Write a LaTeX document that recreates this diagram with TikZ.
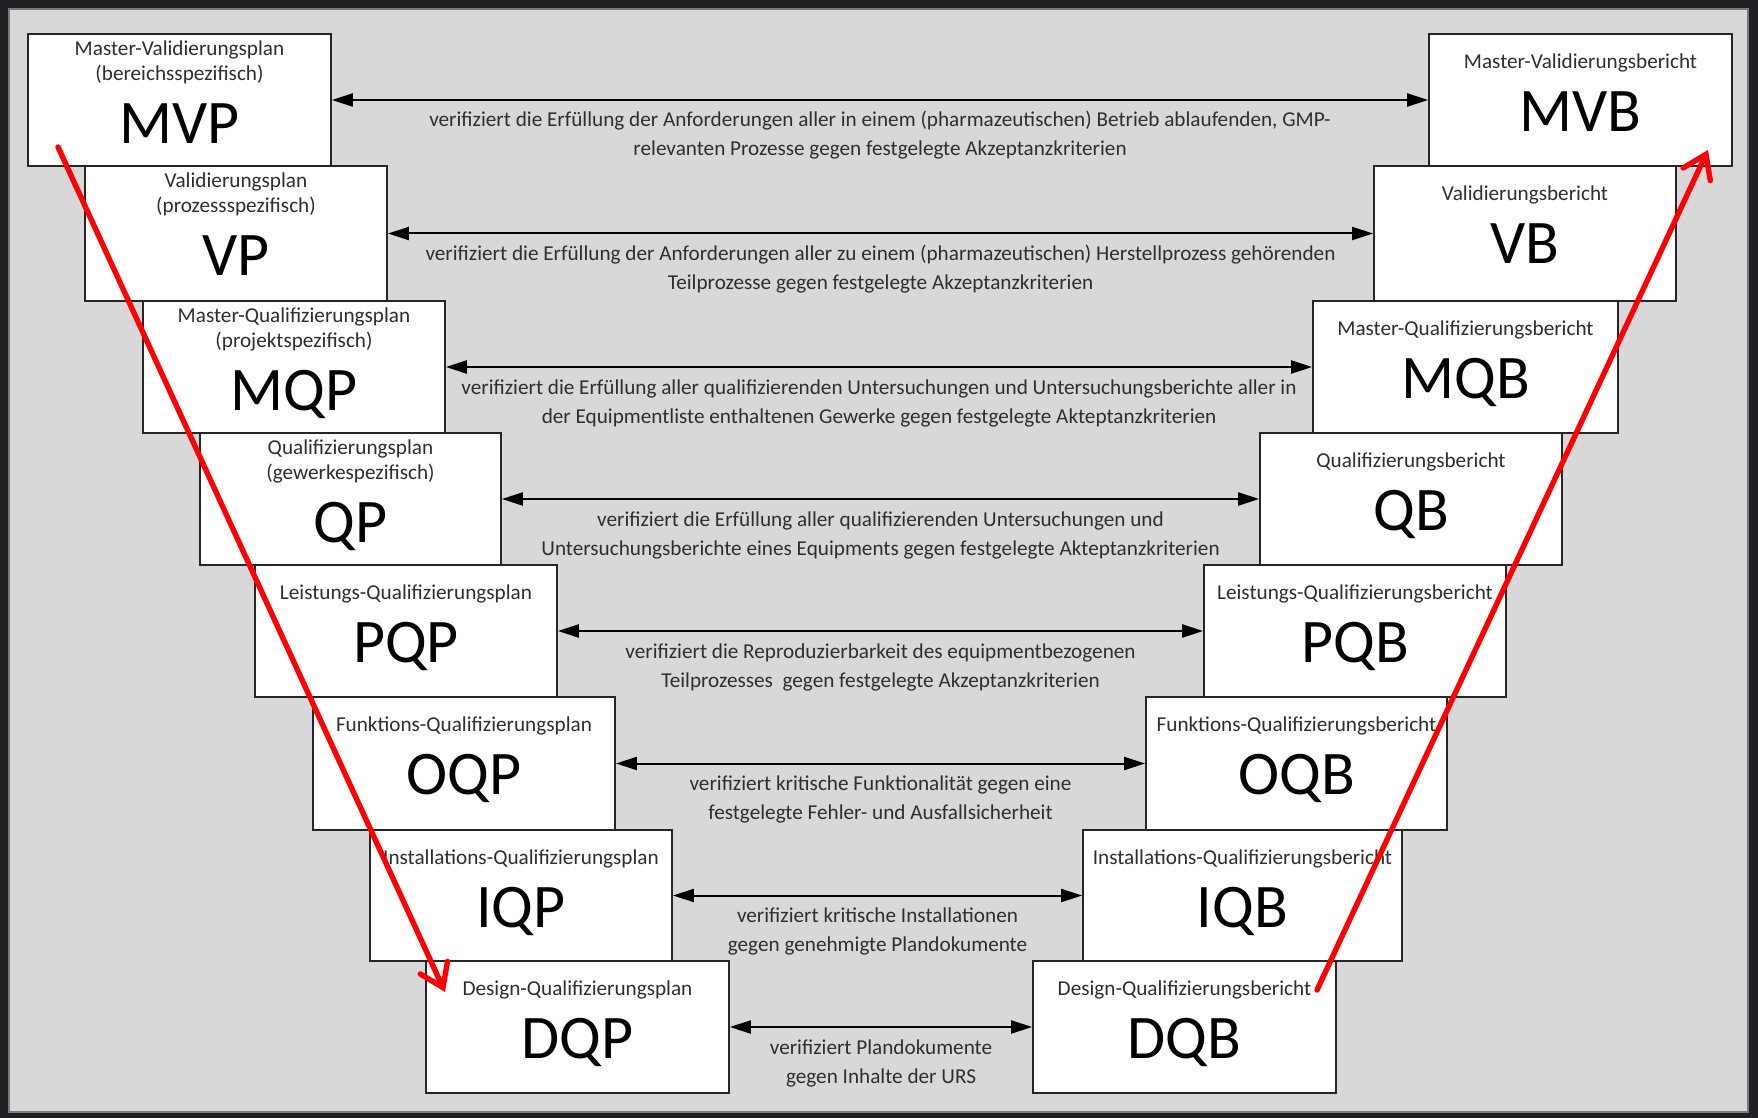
\documentclass[tikz,border=0pt]{standalone}
\usepackage{fontspec}
\setmainfont{Carlito}
\usetikzlibrary{arrows.meta,calc}

\definecolor{frame}{HTML}{1F1F24}
\definecolor{panel}{HTML}{D8D8D8}
\definecolor{panelline}{HTML}{7A7A7A}
\definecolor{boxline}{HTML}{262626}
\definecolor{smalltext}{HTML}{2E2E2E}
\definecolor{vred}{HTML}{FF0000}

\tikzset{
  docbox/.style={draw=boxline, line width=0.85pt, fill=white, inner sep=0pt, rectangle},
  ttl/.style={anchor=base, inner sep=0pt, text=smalltext, font=\fontsize{10.6pt}{12pt}\selectfont},
  big/.style={anchor=base, inner sep=0pt, text=black, font=\fontsize{31pt}{36pt}\selectfont},
  lbl/.style={anchor=base, inner sep=0pt, text=smalltext, font=\fontsize{10.6pt}{12pt}\selectfont},
  biarrow/.style={draw=black, line width=1pt,
    {Triangle[length=10.5pt,width=6.5pt]}-{Triangle[length=10.5pt,width=6.5pt]}},
  vline/.style={draw=vred, line width=2.7pt, line cap=round,
    -{Straight Barb[length=11pt,width=15pt,line cap=round]}}
}

% box: name, left, top, right, bottom (pixel grid, y downwards)
\newcommand\docnode[5]{%
  \node[docbox, minimum width={(#4-#2)*0.5pt}, minimum height={(#5-#3)*0.5pt}]
    (#1) at ({(#2+#4)/2},{(#3+#5)/2}) {};}
% two-line heading plus abbreviation
\newcommand\twohead[4]{%
  \node[ttl] (#1-a) at ($(#1.north)+(0,22)$) {#2};
  \node[ttl] (#1-b) at ($(#1.north)+(0,47)$) {#3};
  \node[big] (#1-c) at ($(#1.north)+(0,110)$) {#4};}
% one-line heading plus abbreviation
\newcommand\onehead[3]{%
  \node[ttl] (#1-a) at ($(#1.north)+(0,35)$) {#2};
  \node[big] (#1-c) at ($(#1.north)+(0,98)$) {#3};}
% double arrow between plan and report with two label lines
\newcommand\verify[4]{%
  \draw[biarrow] (#1.east) -- (#2.west);
  \node[lbl] (#1-l1) at ($(#1.east)!0.5!(#2.west)+(0,27)$) {#3};
  \node[lbl] (#1-l2) at ($(#1.east)!0.5!(#2.west)+(0,56)$) {#4};}

\begin{document}
\begin{tikzpicture}[x=0.5pt,y=-0.5pt]
  % frame and panel
  \fill[frame] (0,0) rectangle (1758,1118);
  \useasboundingbox (0,0) rectangle (1758,1118);
  \filldraw[fill=panel, draw=panelline, line width=0.6pt] (9,9) rectangle (1748,1112);

  % plans (left column)
  \docnode{MVP}{28}{34}{331}{166}
  \docnode{VP}{85}{166}{387}{301}
  \docnode{MQP}{143}{301}{445}{433}
  \docnode{QP}{200}{433}{501}{565}
  \docnode{PQP}{255}{565}{557}{697}
  \docnode{OQP}{313}{697}{615}{830}
  \docnode{IQP}{370}{830}{672}{961}
  \docnode{DQP}{426}{961}{729}{1093}

  % reports (right column)
  \docnode{MVB}{1429}{34}{1732}{166}
  \docnode{VB}{1374}{166}{1676}{301}
  \docnode{MQB}{1313}{301}{1618}{433}
  \docnode{QB}{1260}{433}{1562}{565}
  \docnode{PQB}{1204}{565}{1506}{697}
  \docnode{OQB}{1146}{697}{1447}{830}
  \docnode{IQB}{1083}{830}{1402}{961}
  \docnode{DQB}{1033}{961}{1336}{1093}

  % headings
  \twohead{MVP}{Master-Validierungsplan}{(bereichsspezifisch)}{MVP}
  \twohead{VP}{Validierungsplan}{(prozessspezifisch)}{VP}
  \twohead{MQP}{Master-Qualifizierungsplan}{(projektspezifisch)}{MQP}
  \twohead{QP}{Qualifizierungsplan}{(gewerkespezifisch)}{QP}
  \onehead{PQP}{Leistungs-Qualifizierungsplan}{PQP}
  \onehead{OQP}{Funktions-Qualifizierungsplan}{OQP}
  \onehead{IQP}{Installations-Qualifizierungsplan}{IQP}
  \onehead{DQP}{Design-Qualifizierungsplan}{DQP}

  \onehead{MVB}{Master-Validierungsbericht}{MVB}
  \onehead{VB}{Validierungsbericht}{VB}
  \onehead{MQB}{Master-Qualifizierungsbericht}{MQB}
  \onehead{QB}{Qualifizierungsbericht}{QB}
  \onehead{PQB}{Leistungs-Qualifizierungsbericht}{PQB}
  \onehead{OQB}{Funktions-Qualifizierungsbericht}{OQB}
  \onehead{IQB}{Installations-Qualifizierungsbericht}{IQB}
  \onehead{DQB}{Design-Qualifizierungsbericht}{DQB}

  % verification links
  \verify{MVP}{MVB}
    {verifiziert die Erfüllung der Anforderungen aller in einem (pharmazeutischen) Betrieb ablaufenden, GMP-}
    {relevanten Prozesse gegen festgelegte Akzeptanzkriterien}
  \verify{VP}{VB}
    {verifiziert die Erfüllung der Anforderungen aller zu einem (pharmazeutischen) Herstellprozess gehörenden}
    {Teilprozesse gegen festgelegte Akzeptanzkriterien}
  \verify{MQP}{MQB}
    {verifiziert die Erfüllung aller qualifizierenden Untersuchungen und Untersuchungsberichte aller in}
    {der Equipmentliste enthaltenen Gewerke gegen festgelegte Akteptanzkriterien}
  \verify{QP}{QB}
    {verifiziert die Erfüllung aller qualifizierenden Untersuchungen und}
    {Untersuchungsberichte eines Equipments gegen festgelegte Akteptanzkriterien}
  \verify{PQP}{PQB}
    {verifiziert die Reproduzierbarkeit des equipmentbezogenen}
    {Teilprozesses\ \ gegen festgelegte Akzeptanzkriterien}
  \verify{OQP}{OQB}
    {verifiziert kritische Funktionalität gegen eine}
    {festgelegte Fehler- und Ausfallsicherheit}
  \verify{IQP}{IQB}
    {verifiziert kritische Installationen}
    {gegen genehmigte Plandokumente}
  \verify{DQP}{DQB}
    {verifiziert Plandokumente}
    {gegen Inhalte der URS}

  % V-shaped flow: down through the plans, up through the reports
  \coordinate (downstart) at (58,147);
  \coordinate (downend) at (445,992);
  \coordinate (upstart) at (1317,990);
  \coordinate (upend) at (1708,150);
  \draw[vline] (downstart) -- (downend);
  \draw[vline] (upstart) -- (upend);
\end{tikzpicture}
\end{document}
